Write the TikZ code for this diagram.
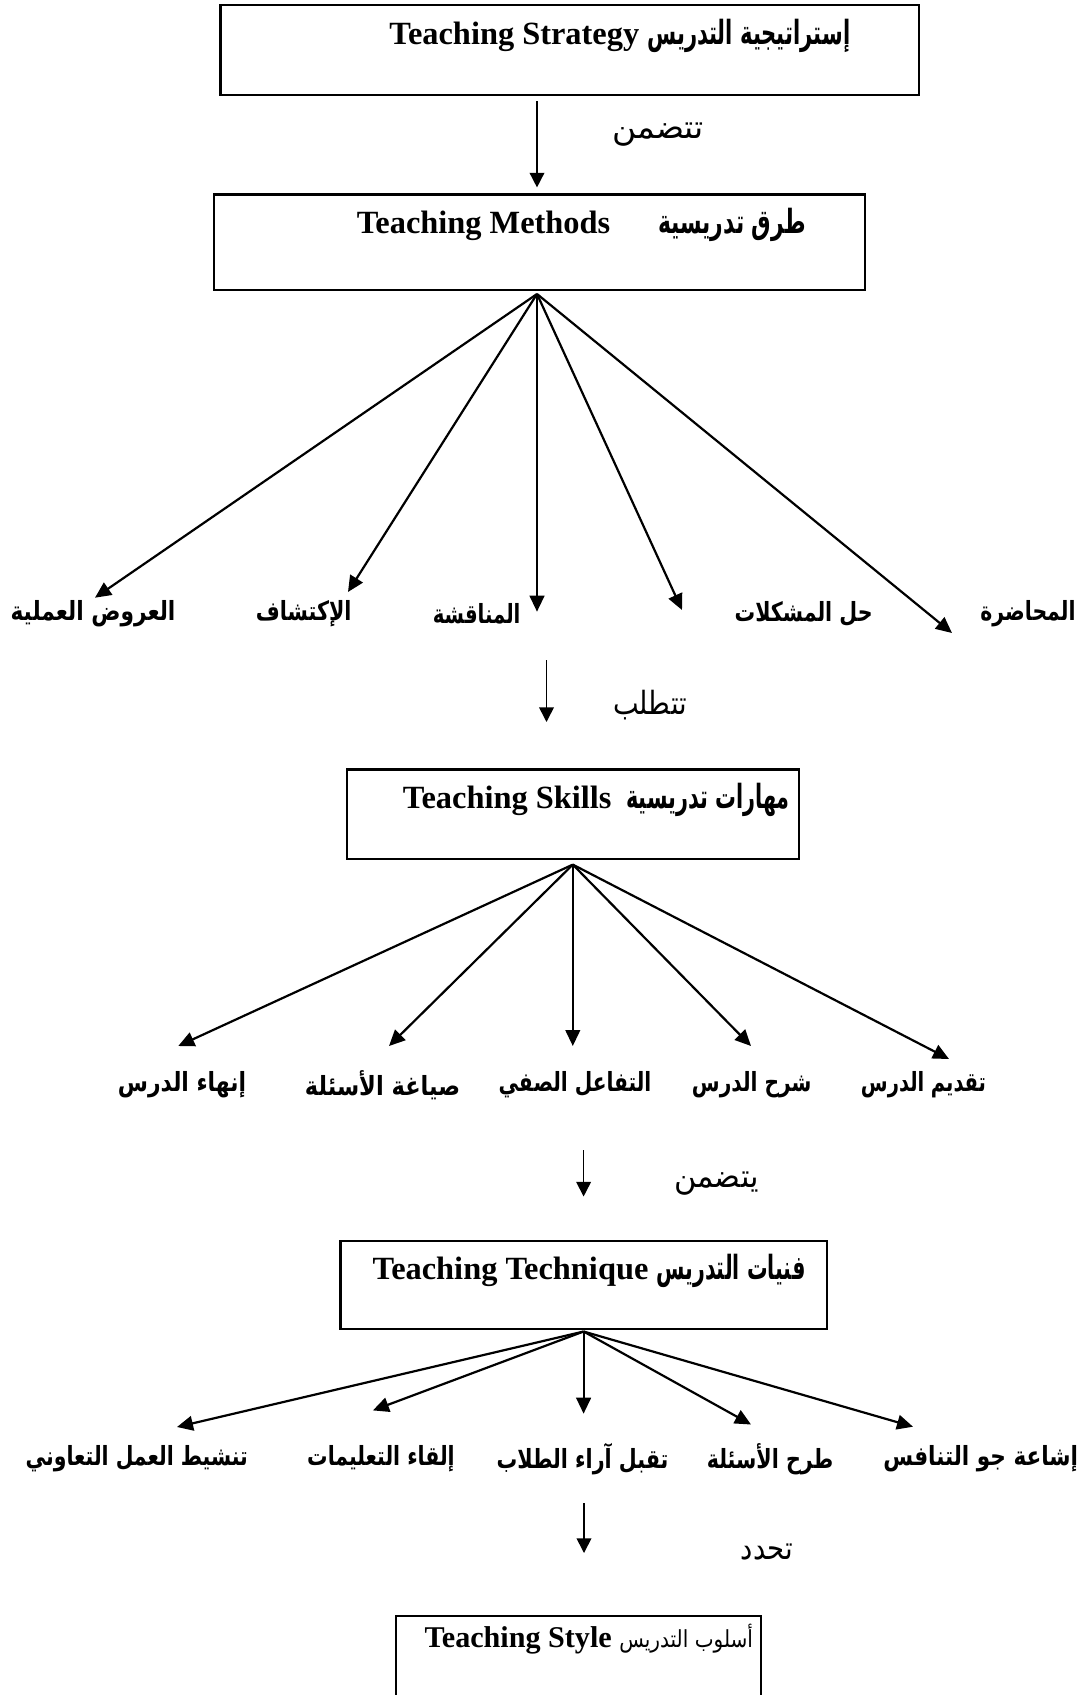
\documentclass[tikz,border=0pt]{standalone}
\usepackage{fontspec}
\setmainfont{Liberation Serif}
\newfontfamily\ar[Script=Arabic]{DejaVu Sans}
\TeXXeTstate=1
\usetikzlibrary{arrows.meta,fit}
% horizontally scaled Arabic text: \SAR{x-scale}{y-scale}{text}
\newcommand\SAR[3]{\scalebox{#1}[#2]{\ar #3}}
\begin{document}
\begin{tikzpicture}[x=0.75pt,y=-0.75pt,
 box/.style={draw, line width=1.6pt, inner sep=0pt},
 fan/.style={line width=1.65pt, -{Triangle[length=12pt,width=11pt]}},
 link/.style={line width=1.2pt, -{Triangle[length=11pt,width=11pt]}},
 title/.style={anchor=east, inner sep=0pt, font=\fontsize{24.3}{28}\selectfont\bfseries},
 lab/.style={inner sep=0pt, font=\fontsize{18}{22}\selectfont\bfseries},
 verb/.style={inner sep=0pt, font=\fontsize{24}{28}\selectfont},
]
\path[use as bounding box] (0,0) rectangle (1084,1695);
\clip (0,0) rectangle (1084,1695);

% boxes
\node[box, fit={(220.5,5.4) (918.7,95.1)}] (b1) {};
\node[title] (t1) at (850.6,36) {Teaching Strategy \SAR{0.79}{1.25}{\fontsize{20}{24}\selectfont\beginR إستراتيجية التدريس\endR}};
\node[box, fit={(214,194.5) (864.6,289.6)}] (b2) {};
\node[title] (t2) at (806,225) {Teaching Methods\hspace{36pt}\SAR{0.82}{1.25}{\fontsize{20}{24}\selectfont\beginR طرق تدريسية\endR}};
\node[box, fit={(347,769.5) (798.7,859)}] (b3) {};
\node[title] (t3) at (790,800) {Teaching Skills\hspace{11pt}\SAR{0.78}{1.25}{\fontsize{20}{24}\selectfont\beginR مهارات تدريسية\endR}};
\node[box, fit={(340.5,1240.8) (826.8,1329.4)}] (b4) {};
\node[title] (t4) at (806,1271) {Teaching Technique \SAR{0.77}{1.25}{\fontsize{20}{24}\selectfont\beginR فنيات التدريس\endR}};
\node[box, fit={(395.6,1615.8) (760.9,1730)}] (b5) {};
\node[title, font=\fontsize{22.6}{26}\selectfont\bfseries] (t5) at (753.3,1639.5) {Teaching Style \SAR{0.94}{1.1}{\mdseries\fontsize{16}{19}\selectfont\beginR أسلوب التدريس\endR}};

% verbs
\node[verb] (v1) at (658,135) {\SAR{1.03}{1}{\beginR تتضمن\endR}};
\node[verb] (v2) at (650,705) {\SAR{0.85}{1}{\beginR تتطلب\endR}};
\node[verb] (v3) at (716.6,1184) {\SAR{0.95}{1}{\beginR يتضمن\endR}};
\node[verb] (v4) at (767,1552) {\SAR{0.86}{1}{\beginR تحدد\endR}};

% vertical links
\coordinate (m1) at (537,0);
\draw[link, shorten <=3.8pt, shorten >=4.5pt] (b1.south -| m1) -- (b2.north -| m1);
\coordinate (s2) at (546.5,660); \coordinate (e2) at (546.5,722);
\draw[link] (s2) -- (e2);
\coordinate (s3) at (583.6,1150); \coordinate (e3) at (583.6,1196.5);
\draw[link] (s3) -- (e3);
\coordinate (s4) at (584,1503); \coordinate (e4) at (584,1553);
\draw[link] (s4) -- (e4);

% methods
\coordinate (p2) at (537,294);
\node[lab] (l11) at (93,614) {\SAR{0.905}{1.1}{\beginR العروض العملية\endR}};
\node[lab] (l12) at (303.7,614) {\SAR{0.86}{1.1}{\beginR الإكتشاف\endR}};
\node[lab] (l13) at (476.6,614) {\SAR{0.82}{1.1}{\beginR المناقشة\endR}};
\node[lab] (l14) at (803.6,614) {\SAR{0.856}{1.1}{\beginR حل المشكلات\endR}};
\node[lab] (l15) at (1028,614) {\SAR{0.85}{1.1}{\beginR المحاضرة\endR}};
\coordinate (e11) at (95,597.7);
\coordinate (e12) at (348,592);
\coordinate (e13) at (537,611.7);
\coordinate (e14) at (682,610);
\coordinate (e15) at (952,633);
\foreach \e in {e11,e12,e13,e14,e15} \draw[fan] (p2) -- (\e);

% skills
\coordinate (p3) at (572.8,864.6);
\node[lab] (l21) at (182,1085) {\SAR{0.91}{1.1}{\beginR إنهاء الدرس\endR}};
\node[lab] (l22) at (382.6,1085) {\SAR{0.94}{1.1}{\beginR صياغة الأسئلة\endR}};
\node[lab] (l23) at (575,1085) {\SAR{0.84}{1.1}{\beginR التفاعل الصفي\endR}};
\node[lab] (l24) at (751.7,1085) {\SAR{0.84}{1.1}{\beginR شرح الدرس\endR}};
\node[lab] (l25) at (923.5,1085) {\SAR{0.81}{1.1}{\beginR تقديم الدرس\endR}};
\coordinate (e21) at (178.3,1046);
\coordinate (e22) at (389,1046);
\coordinate (e23) at (572.8,1046);
\coordinate (e24) at (751,1046);
\coordinate (e25) at (949,1059);
\foreach \e in {e21,e22,e23,e24,e25} \draw[fan] (p3) -- (\e);

% techniques
\coordinate (p4) at (583.6,1331.5);
\node[lab] (l31) at (136.7,1459) {\SAR{0.85}{1.1}{\beginR تنشيط العمل التعاوني\endR}};
\node[lab] (l32) at (381,1459) {\SAR{0.85}{1.1}{\beginR إلقاء التعليمات\endR}};
\node[lab] (l33) at (582.5,1459) {\SAR{0.86}{1.1}{\beginR تقبل آراء الطلاب\endR}};
\node[lab] (l34) at (770,1459) {\SAR{0.86}{1.1}{\beginR طرح الأسئلة\endR}};
\node[lab] (l35) at (980.8,1459) {\SAR{0.9}{1.1}{\beginR إشاعة جو التنافس\endR}};
\coordinate (e31) at (177,1427);
\coordinate (e32) at (372.9,1410.4);
\coordinate (e33) at (583.6,1413.7);
\coordinate (e34) at (751,1424.5);
\coordinate (e35) at (913,1426.7);
\foreach \e in {e31,e32,e33,e34,e35} \draw[fan] (p4) -- (\e);
\end{tikzpicture}
\end{document}
